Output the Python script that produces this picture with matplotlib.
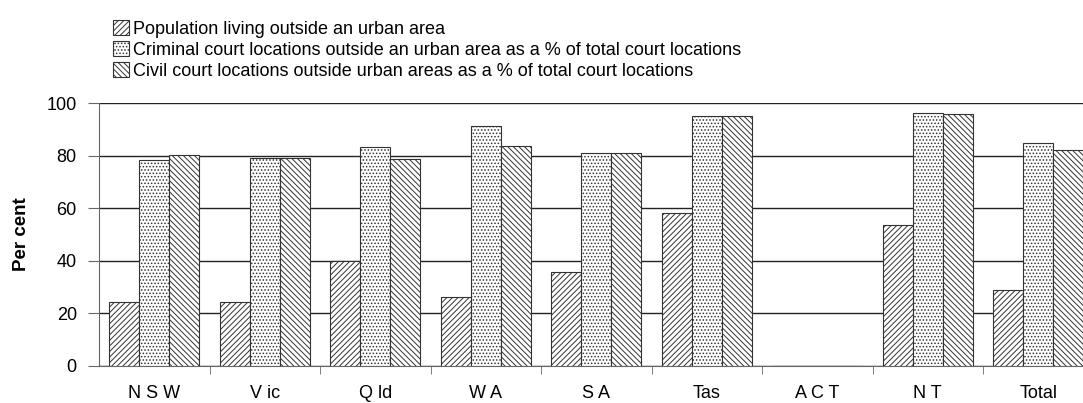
import matplotlib.pyplot as plt
import numpy as np

plt.rcParams["font.family"] = ["Liberation Sans", "DejaVu Sans"]
plt.rcParams["hatch.linewidth"] = 0.7

states = ["NSW", "Vic", "Qld", "WA", "SA", "Tas", "ACT", "NT", "Total"]
tick_labels = ["N S W", "V ic", "Q ld", "W A", "S A", "Tas", "A C T", "N T", "Total"]
population = [24.2, 24.2, 40.0, 26.4, 35.6, 58.0, 0, 53.8, 28.8]
criminal = [78.4, 79.0, 83.4, 91.4, 80.9, 95.2, 0, 96.3, 84.7]
civil = [80.2, 79.0, 78.6, 83.8, 80.9, 95.2, 0, 95.7, 82.0]

labels = ["Population living outside an urban area",
          "Criminal court locations outside an urban area as a % of total court locations",
          "Civil court locations outside urban areas as a % of total court locations"]

fig = plt.figure(figsize=(10.83, 4.03), dpi=100)
ax = fig.add_axes([99 / 1083, 37 / 403, 994.5 / 1083, 263 / 403])

x = np.arange(len(states))
w = 0.27
edge = "#333333"
ax.bar(x - w, population, w, facecolor="white", edgecolor=edge, hatch="//////",
       linewidth=0.8, label=labels[0], zorder=3)
ax.bar(x, criminal, w, facecolor="white", edgecolor=edge, hatch=".....",
       linewidth=0.8, label=labels[1], zorder=3)
ax.bar(x + w, civil, w, facecolor="white", edgecolor=edge, hatch="\\\\\\\\\\\\",
       linewidth=0.8, label=labels[2], zorder=3)

ax.set_xlim(-0.5, len(states) - 0.5)
ax.set_ylim(0, 100)
ax.set_yticks(range(0, 101, 20))
ax.yaxis.grid(True, color="#222222", linewidth=1, zorder=0)
ax.set_axisbelow(True)
ax.set_xticks(x)
ax.set_xticklabels(tick_labels, fontsize=13)
ax.set_xticks(np.arange(0.5, len(states) - 0.5), minor=True)
ax.tick_params(axis="x", which="major", length=0, pad=14)
ax.tick_params(axis="x", which="minor", length=6, color="#666666", direction="out")
ax.tick_params(axis="y", length=8, color="#666666", labelsize=13, pad=8)

for s in ["top", "right"]:
    ax.spines[s].set_visible(False)
ax.spines["left"].set_color("#666666")
ax.spines["bottom"].set_color("#666666")

ax.set_ylabel("Per cent", fontsize=13.5, fontweight="bold", labelpad=12)

fig.legend(loc="upper left", bbox_to_anchor=(106 / 1083, 1 - 13 / 403),
           frameon=False, fontsize=13, handlelength=0.85, handleheight=0.85,
           handletextpad=0.25, labelspacing=0.2, borderaxespad=0)

fig.savefig("out.png", dpi=100)
plt.close(fig)
